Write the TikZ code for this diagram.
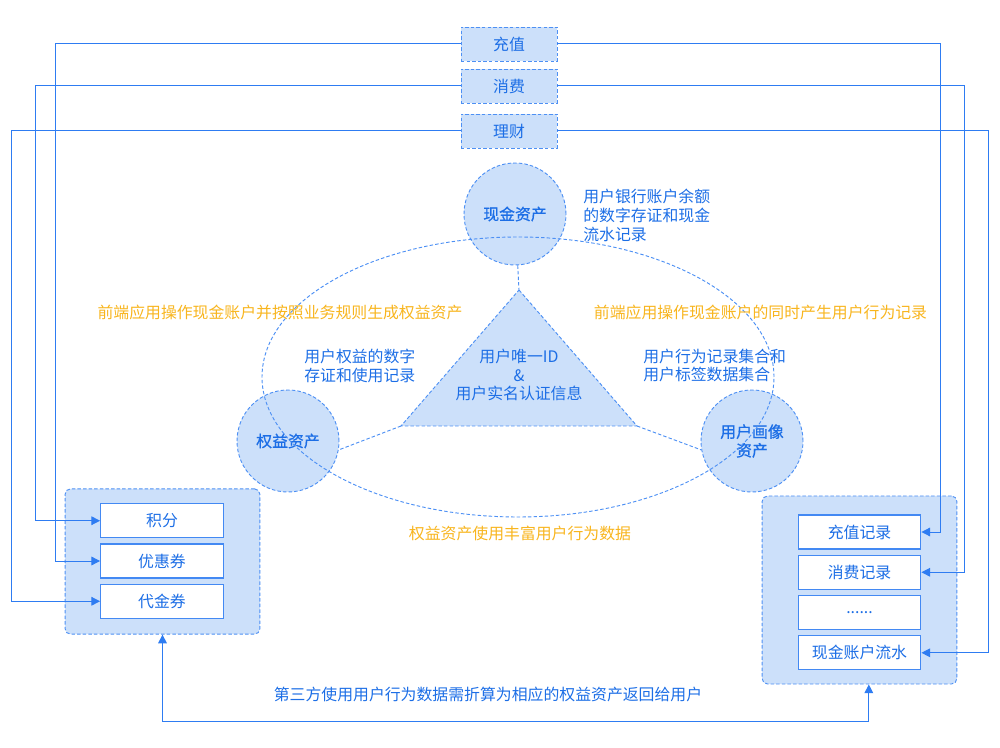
\documentclass[tikz,border=0pt]{standalone}
\usepackage{fontspec}
\setmainfont{Noto Sans CJK SC}
\newfontfamily\assetfont[FakeBold=0.8]{Noto Sans CJK SC}
\usetikzlibrary{positioning, arrows.meta, calc}
\definecolor{lineblue}{HTML}{2E7CF2}
\definecolor{fillblue}{HTML}{CCE0FA}
\definecolor{textblue}{HTML}{1C6EE6}
\definecolor{noteorange}{HTML}{F8B51E}
\newcommand\sz{\fontsize{11.9}{14}\selectfont}
\tikzset{
  dashline/.style={draw=lineblue!85, dash pattern=on 2.6pt off 1.6pt, line width=0.7pt},
  tab/.style={dashline, fill=fillblue, minimum width=72pt, minimum height=25.5pt, text=textblue},
  item/.style={draw=lineblue!90, line width=0.9pt, fill=white, minimum width=92pt, minimum height=25.5pt, text=textblue},
  asset/.style={dashline, circle, fill=fillblue, minimum size=76.5pt, inner sep=0pt, align=center, text=textblue, font=\sz\assetfont},
  group/.style={dashline, fill=fillblue, rounded corners=4pt},
  note/.style={text=textblue, align=left, inner sep=0pt},
  hint/.style={text=noteorange, inner sep=0pt},
  flow/.style={draw=lineblue, line width=0.75pt}
}
\begin{document}
\begin{tikzpicture}[x=0.75pt, y=-0.75pt, font=\sz, >={Triangle[length=6.5pt,width=6.5pt]}, node distance=3.8pt]
  \useasboundingbox (0,0) rectangle (1000,748);
  \node[tab] (cz) at (509,44) {充值};
  \node[tab] (xf) at (509,86) {消费};
  \node[tab] (lc) at (509,131) {理财};

  \node[group, minimum width=146pt, minimum height=109pt] (lg) at (162.5,561.5) {};
  \node[item] (yhq) at (162,561) {优惠券};
  \node[item] (jf) [above=of yhq] {积分};
  \node[item] (djq) [below=of yhq] {代金券};

  \node[group, minimum width=146pt, minimum height=141pt] (rg) at (859.5,590) {};
  \node[item] (czjl) at (859.5,532) {充值记录};
  \node[item] (xfjl) [below=of czjl] {消费记录};
  \node[item] (etc) [below=of xfjl] {......};
  \node[item] (lsjl) [below=of etc] {现金账户流水};

  \coordinate (l1) at (55,0);  \coordinate (l2) at (35,0);  \coordinate (l3) at (11,0);
  \coordinate (r1) at (940,0); \coordinate (r2) at (964,0); \coordinate (r3) at (988,0);
  \coordinate (b) at (0,721);
  \draw[flow, ->] (cz) -- (cz -| l1) |- (yhq);
  \draw[flow, ->] (xf) -- (xf -| l2) |- (jf);
  \draw[flow, ->] (lc) -- (lc -| l3) |- (djq);
  \draw[flow, ->] (cz) -- (cz -| r1) |- (czjl);
  \draw[flow, ->] (xf) -- (xf -| r2) |- (xfjl);
  \draw[flow, ->] (lc) -- (lc -| r3) |- (lsjl);
  \draw[flow, <->] (lg) -- (lg |- b) -| ([xshift=7pt]rg.south);

  \node[asset] (xj) at (515,214) {现金资产};
  \node[asset] (qy) at (288,441) {权益资产};
  \node[asset] (hx) at (752,441) {用户画像\\资产};
  \coordinate (apex) at (519,290);
  \coordinate (bl) at (401,426);
  \coordinate (br) at (637,426);
  \draw[dashline, fill=fillblue] (apex) -- (br) -- (bl) -- cycle;
  \draw[dashline] (518,377) ellipse [x radius=192pt, y radius=105pt];
  \path[dashline] (xj) edge (apex) (bl) edge (qy.-10) (br) edge (hx.190);

  \node[note, align=center] (uid) at (519,375) {用户唯一ID\\\&\\用户实名认证信息};
  \node[note, anchor=west] (xjnote) at (583,215.5) {用户银行账户余额\\的数字存证和现金\\流水记录};
  \node[note, anchor=west] (qynote) at (304,366) {用户权益的数字\\存证和使用记录};
  \node[note, anchor=west] (hxnote) at (643,365.5) {用户行为记录集合和\\用户标签数据集合};
  \node[hint] (gen) at (280,312) {前端应用操作现金账户并按照业务规则生成权益资产};
  \node[hint] (rec) at (760.5,312) {前端应用操作现金账户的同时产生用户行为记录};
  \node[hint] (rich) at (520,533) {权益资产使用丰富用户行为数据};
  \node[note] (third) at (488,694) {第三方使用用户行为数据需折算为相应的权益资产返回给用户};
\end{tikzpicture}
\end{document}
